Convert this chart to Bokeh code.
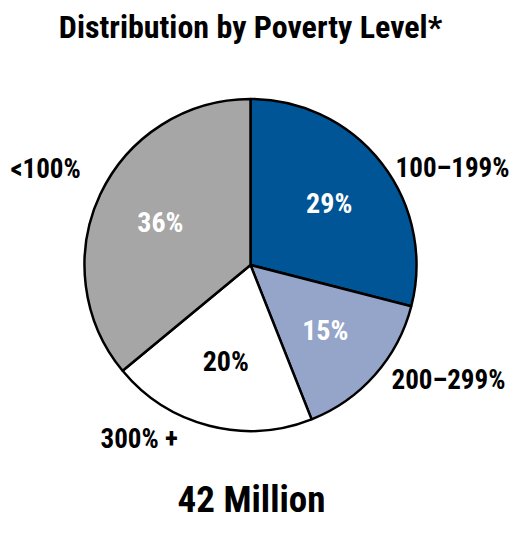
import math
from bokeh.plotting import figure
from bokeh.models import ColumnDataSource, Range1d, Label
from bokeh.core.properties import value
from bokeh.embed import file_html
from bokeh.resources import INLINE

categories = ["100–199%", "200–299%", "300% +", "<100%"]
shares = [29, 15, 20, 36]
pct_labels = ["29%", "15%", "20%", "36%"]
colors = ["#005596", "#94A5C9", "#FFFFFF", "#A6A6A6"]
pct_colors = ["#FFFFFF", "#FFFFFF", "#000000", "#FFFFFF"]
title_text = "Distribution by Poverty Level*"
total_text = "42 Million"

FONT = "Roboto Condensed"
W, H = 510, 524


def Y(py):
    return H - py


CX, CY, R = 250, Y(264.5), 166

total = sum(shares)
starts, ends, mids = [], [], []
cum = 0
for s in shares:
    a0 = math.pi / 2 - 2 * math.pi * cum / total
    cum += s
    a1 = math.pi / 2 - 2 * math.pi * cum / total
    starts.append(a0)
    ends.append(a1)
    mids.append((a0 + a1) / 2)

src = ColumnDataSource(dict(
    start=starts, end=ends, color=colors, cat=categories,
    lx=[CX + 0.6 * R * math.cos(m) for m in mids],
    ly=[CY + 0.6 * R * math.sin(m) for m in mids],
    lab=pct_labels, lcol=pct_colors,
))

p = figure(width=W, height=H, output_backend="svg", toolbar_location=None,
           x_range=Range1d(0, W), y_range=Range1d(0, H),
           min_border=0, outline_line_color=None)
p.axis.visible = False
p.grid.visible = False
p.background_fill_color = "white"

p.wedge(x=CX, y=CY, radius=R, start_angle="start", end_angle="end",
        direction="clock", fill_color="color", line_color="black",
        line_width=2.5, source=src)

p.text(x="lx", y="ly", text="lab", text_color="lcol", text_align="center",
       text_baseline="middle", text_font=value(FONT), text_font_style="bold",
       text_font_size="28px", source=src)

# outer category labels (screen positions)
outer_pos = [(509, 167, "right"), (391, 379, "left"), (100, 438, "left"), (10, 168, "left")]
for name, (x, y, al) in zip(categories, outer_pos):
    p.add_layout(Label(x=x, y=Y(y), text=name, text_align=al, text_baseline="middle",
                       text_font=FONT, text_font_style="bold", text_font_size="27px",
                       text_color="black"))

p.add_layout(Label(x=250, y=Y(26), text=title_text, text_align="center",
                   text_baseline="middle", text_font=FONT, text_font_style="bold",
                   text_font_size="32px", text_color="black"))
p.add_layout(Label(x=251, y=Y(499), text=total_text, text_align="center",
                   text_baseline="middle", text_font=FONT, text_font_style="bold",
                   text_font_size="37px", text_color="black"))

open("out.html", "w").write(file_html(p, INLINE))
